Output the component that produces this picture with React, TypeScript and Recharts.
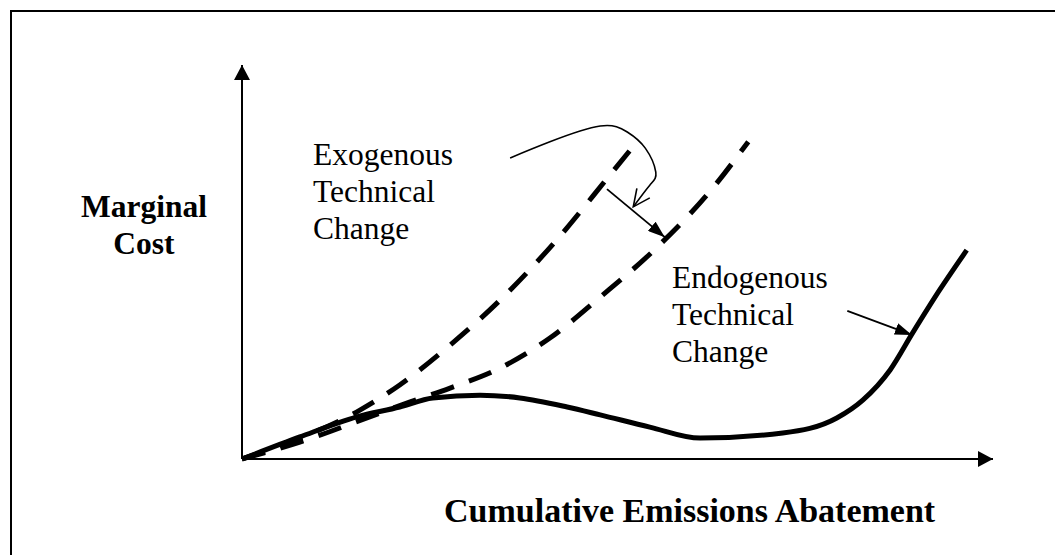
import React from "react";
import { ComposedChart, Line, XAxis, YAxis, ReferenceDot } from "recharts";

// Abstract units: abatement 0..100 (x), marginal cost 0..100 (y)
const endogenousX = [0, 7.7, 15.3, 21.0, 25.4, 31.7, 37.0, 43.3, 47.7, 54.3, 61.0, 72.0, 79.2, 82.7, 86.3, 89.3, 92.9, 96.5];
const endogenousY = [0, 5.6, 10.7, 13.2, 15.5, 16.2, 15.5, 13.2, 11.2, 8.1, 5.3, 6.6, 10.4, 15.0, 22.6, 32.0, 42.9, 53.0];

const exoBeforeX = [0, 7.7, 15.7, 21.0, 27.7, 34.4, 41.9, 49.0, 51.7];
const exoBeforeY = [0, 5.3, 12.4, 18.8, 28.9, 40.4, 55.6, 72.1, 78.4];

const exoAfterX = [0, 7.7, 17.0, 22.4, 27.7, 34.4, 41.0, 47.7, 55.3, 62.7, 67.4];
const exoAfterY = [0, 4.3, 10.7, 14.5, 18.0, 23.1, 30.7, 41.1, 53.8, 68.8, 80.5];

const curvedArrowX = [35.7, 41.0, 47.7, 51.3, 53.7, 55.1, 54.3, 52.1];
const curvedArrowY = [76.4, 80.5, 84.5, 83.0, 78.9, 72.8, 69.5, 64.0];

const shiftArrowX = [48.6, 56.3];
const shiftArrowY = [68.5, 56.3];

const endoPointerX = [80.6, 89.2];
const endoPointerY = [37.6, 31.5];

const exoLabelLines = ["Exogenous", "Technical", "Change"];
const endoLabelLines = ["Endogenous", "Technical", "Change"];
const yTitleLines = ["Marginal", "Cost"];
const xTitleLines = ["Cumulative Emissions Abatement"];

// annotation anchors in data units
const exoLabelAt = { x: 9.45, y: 74.6 };
const endoLabelAt = { x: 57.26, y: 43.4 };
const yTitleAt = { x: -13.05, y: 61.4 };
const xTitleAt = { x: 59.6, y: -16.0 };

const zip = (xs: number[], ys: number[]) => xs.map((x, i) => ({ x, y: ys[i] }));

const FONT = "'Liberation Serif', 'Times New Roman', Times, serif";

const textShape = (lines: string[], anchor: string, bold: boolean, size: number) => (props: any) => {
  const { cx, cy } = props;
  return (
    <text
      x={cx}
      y={cy}
      textAnchor={anchor}
      fontFamily={FONT}
      fontSize={size}
      fontWeight={bold ? "bold" : "normal"}
      fill="#000"
    >
      {lines.map((l, i) => (
        <tspan key={i} x={cx} dy={i === 0 ? 0 : 37}>
          {l}
        </tspan>
      ))}
    </text>
  );
};

const seriesCommon = {
  dataKey: "y",
  stroke: "#000",
  dot: false,
  activeDot: false,
  isAnimationActive: false,
};

export default function App() {
  return (
    <div
      style={{
        position: "absolute",
        left: 0,
        top: 0,
        width: 1055,
        height: 555,
        overflow: "hidden",
        background: "#fff",
      }}
    >
      <div
        style={{
          position: "absolute",
          left: 10,
          top: 10,
          width: 1100,
          height: 600,
          border: "2px solid #000",
          boxSizing: "border-box",
        }}
      />
      <svg width={0} height={0} style={{ position: "absolute" }}>
        <defs>
          <marker
            id="axisArrow"
            markerUnits="userSpaceOnUse"
            markerWidth={15}
            markerHeight={16}
            viewBox="0 0 15 16"
            refX={15}
            refY={8}
            orient="auto-start-reverse"
          >
            <path d="M0,0 L15,8 L0,16 Z" fill="#000" />
          </marker>
          <marker
            id="solidArrow"
            markerUnits="userSpaceOnUse"
            markerWidth={17}
            markerHeight={12}
            viewBox="0 0 17 12"
            refX={17}
            refY={6}
            orient="auto"
          >
            <path d="M0,0 L17,6 L0,12 Z" fill="#000" />
          </marker>
          <marker
            id="openArrow"
            markerUnits="userSpaceOnUse"
            markerWidth={22}
            markerHeight={20}
            viewBox="-2 -2 22 20"
            refX={17}
            refY={8}
            orient="auto"
          >
            <path d="M0,0 L17,8 L0,16" fill="none" stroke="#000" strokeWidth={1.6} />
          </marker>
        </defs>
      </svg>
      <div style={{ position: "absolute", left: 0, top: 0 }}>
        <ComposedChart
          width={1055}
          height={555}
          margin={{ top: 65, right: 62, bottom: 95, left: 241 }}
        >
          <XAxis
            type="number"
            dataKey="x"
            domain={[0, 100]}
            height={1}
            tick={false}
            tickLine={false}
            axisLine={{ stroke: "#000", strokeWidth: 2, markerEnd: "url(#axisArrow)" }}
          />
          <YAxis
            type="number"
            dataKey="y"
            domain={[0, 100]}
            width={1}
            tick={false}
            tickLine={false}
            axisLine={{ stroke: "#000", strokeWidth: 2, markerStart: "url(#axisArrow)" }}
          />
          <Line
            {...seriesCommon}
            data={zip(exoBeforeX, exoBeforeY)}
            type="monotone"
            strokeWidth={5}
            strokeDasharray="24 16"
          />
          <Line
            {...seriesCommon}
            data={zip(exoAfterX, exoAfterY)}
            type="monotone"
            strokeWidth={5}
            strokeDasharray="24 16"
          />
          <Line
            {...seriesCommon}
            data={zip(endogenousX, endogenousY)}
            type="monotone"
            strokeWidth={5}
          />
          <Line
            {...seriesCommon}
            data={zip(curvedArrowX, curvedArrowY)}
            type="natural"
            strokeWidth={1.6}
            markerEnd="url(#openArrow)"
          />
          <Line
            {...seriesCommon}
            data={zip(shiftArrowX, shiftArrowY)}
            type="linear"
            strokeWidth={1.8}
            markerEnd="url(#solidArrow)"
          />
          <Line
            {...seriesCommon}
            data={zip(endoPointerX, endoPointerY)}
            type="linear"
            strokeWidth={1.8}
            markerEnd="url(#solidArrow)"
          />
          <ReferenceDot
            x={exoLabelAt.x}
            y={exoLabelAt.y}
            r={0}
            ifOverflow="visible"
            shape={textShape(exoLabelLines, "start", false, 31.5)}
          />
          <ReferenceDot
            x={endoLabelAt.x}
            y={endoLabelAt.y}
            r={0}
            ifOverflow="visible"
            shape={textShape(endoLabelLines, "start", false, 31.5)}
          />
          <ReferenceDot
            x={yTitleAt.x}
            y={yTitleAt.y}
            r={0}
            ifOverflow="visible"
            shape={textShape(yTitleLines, "middle", true, 31.5)}
          />
          <ReferenceDot
            x={xTitleAt.x}
            y={xTitleAt.y}
            r={0}
            ifOverflow="visible"
            shape={textShape(xTitleLines, "middle", true, 34)}
          />
        </ComposedChart>
      </div>
    </div>
  );
}
